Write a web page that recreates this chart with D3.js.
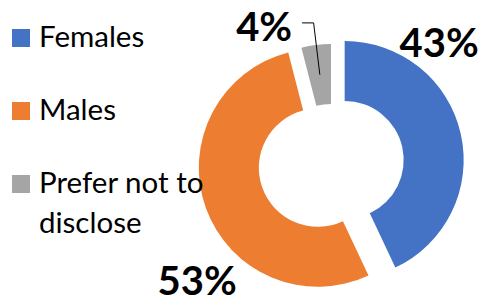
<!DOCTYPE html>
<html>
<head>
<meta charset="utf-8">
<script src="https://cdn.jsdelivr.net/npm/d3@7"></script>
<style>
  body { margin: 0; background: #fff; }
  svg { display: block; font-family: Lato, "Open Sans", sans-serif; }
</style>
</head>
<body>
<svg id="chart" width="485" height="300"></svg>
<script>
// Data
const categories = ['Females', 'Males', 'Prefer not to disclose'];
const values = [43, 53, 4];
const colors = ['#4472C4', '#ED7D31', '#A5A5A5'];

// Layout
const width = 485, height = 300;
const cx = 331, cy = 163;
const outerR = 119, innerR = 59;
const explode = [14, 14, 0];
// label placement (degrees clockwise from top, distance from centre)
const labelAngle = [41.9, 228.8, 333.9];
const labelDist = [162, 178, 152];

const svg = d3.select('#chart');

const pie = d3.pie().sort(null).value(d => d.value);
const arc = d3.arc().innerRadius(innerR).outerRadius(outerR);

const data = categories.map((c, i) => ({ name: c, value: values[i], color: colors[i], i }));
const arcs = pie(data);

const g = svg.append('g').attr('transform', `translate(${cx},${cy})`);

// Slices
g.selectAll('path.slice')
    .data(arcs)
    .join('path')
    .attr('class', 'slice')
    .attr('d', arc)
    .attr('fill', d => d.data.color)
    .attr('transform', d => {
        const m = (d.startAngle + d.endAngle) / 2;
        const e = explode[d.data.i];
        return `translate(${e * Math.sin(m)},${-e * Math.cos(m)})`;
    });

// Percent labels
const total = d3.sum(values);
const labels = g.selectAll('text.pct')
    .data(arcs)
    .join('text')
    .attr('class', 'pct')
    .attr('x', d => labelDist[d.data.i] * Math.sin(labelAngle[d.data.i] * Math.PI / 180))
    .attr('y', d => -labelDist[d.data.i] * Math.cos(labelAngle[d.data.i] * Math.PI / 180))
    .attr('text-anchor', 'middle')
    .attr('dy', '0.36em')
    .attr('font-size', 40)
    .attr('font-weight', 'bold')
    .attr('fill', '#000')
    .text(d => `${Math.round(d.value / total * 100)}%`);

// Leader line for the small slice
labels.filter(d => d.data.i === 2).each(function(d) {
    const bb = this.getBBox();
    const c = arc.centroid(d);
    const x0 = bb.x + bb.width + 10;
    const y0 = bb.y + bb.height / 2 - 3;
    g.append('polyline')
        .attr('points', `${x0},${y0} ${x0 + 11.5},${y0} ${c[0]},${c[1]}`)
        .attr('fill', 'none')
        .attr('stroke', '#000')
        .attr('stroke-width', 1);
});

// Legend
const legendRows = [['Females'], ['Males'], ['Prefer not to', 'disclose']];
const legendY = d3.scalePoint().domain(categories).range([47, 193]);
const legend = svg.append('g');
categories.forEach((c, i) => {
    const y = legendY(c);
    legend.append('rect')
        .attr('x', 12).attr('y', y - 18)
        .attr('width', 18).attr('height', 18)
        .attr('fill', colors[i]);
    const t = legend.append('text')
        .attr('x', 39).attr('y', y)
        .attr('font-size', 29.5)
        .attr('fill', '#000');
    legendRows[i].forEach((line, k) => {
        t.append('tspan').attr('x', 39).attr('dy', k === 0 ? 0 : 40).text(line);
    });
});
</script>
</body>
</html>
